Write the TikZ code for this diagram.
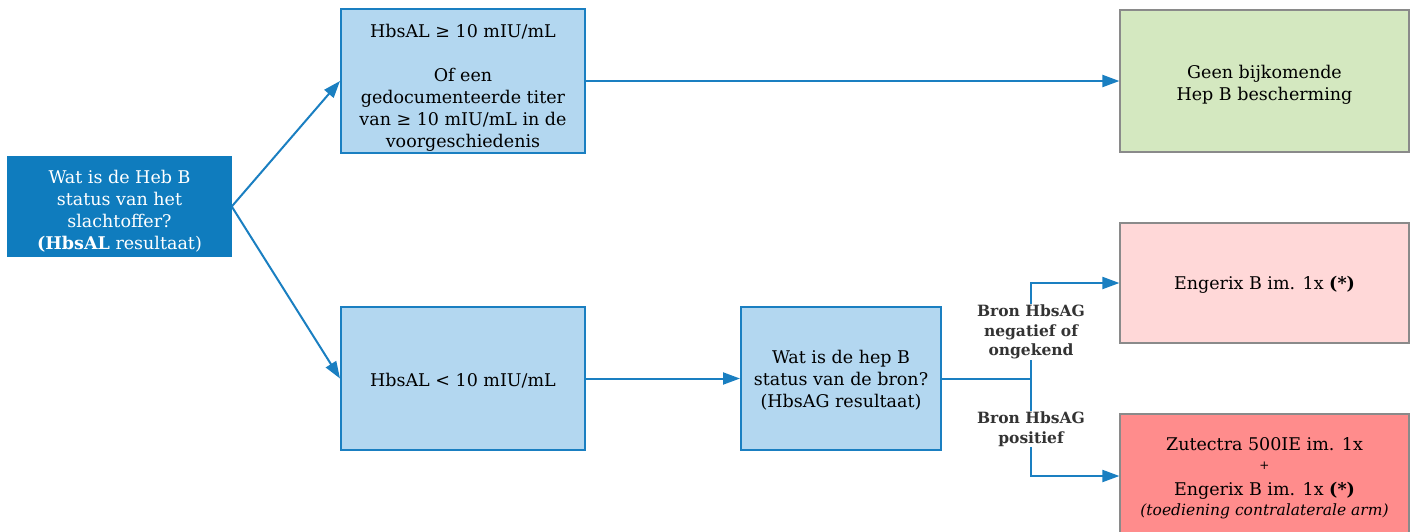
\documentclass[tikz,border=0pt]{standalone}
\usepackage{fontspec}
\setmainfont{DejaVu Serif}
\usetikzlibrary{arrows.meta}
\definecolor{dblue}{HTML}{0F7CBE}
\definecolor{lblue}{HTML}{B3D7F0}
\definecolor{bline}{HTML}{1A7FC1}
\definecolor{lgreen}{HTML}{D4E8C0}
\definecolor{lpink}{HTML}{FFD8D8}
\definecolor{lred}{HTML}{FF8C8C}
\definecolor{gline}{HTML}{8A8A8A}
\definecolor{labtxt}{HTML}{333333}
\newcommand{\tpad}[1]{\rule{0pt}{#1pt}}
\tikzset{
  base/.style={align=center, inner sep=2pt, font=\fontsize{17.5}{22}\selectfont},
  darkbox/.style={base, fill=dblue, draw=dblue, text=white, line width=1.5pt},
  bluebox/.style={base, fill=lblue, draw=bline, line width=2pt, text=black},
  greenbox/.style={base, fill=lgreen, draw=gline, line width=1.2pt},
  pinkbox/.style={base, fill=lpink, draw=gline, line width=1.2pt},
  redbox/.style={base, fill=lred, draw=gline, line width=1.2pt},
  conn/.style={draw=bline, line width=2pt, -{Triangle[length=17pt,width=12pt]}},
  plain/.style={draw=bline, line width=2pt},
  lab/.style={fill=white, align=center, inner sep=1pt, text=labtxt, font=\bfseries\fontsize{15.5}{19.5}\selectfont}
}
\begin{document}
\begin{tikzpicture}[x=1pt,y=-1pt]
\useasboundingbox (0,0) rectangle (1410,531);
\node[darkbox, minimum width=223pt, minimum height=99pt] (L) at (119.5,206.5)
  {\tpad{22}Wat is de Heb B\\status van het\\slachtoffer?\\\textbf{(HbsAL} resultaat)};
\node[bluebox, minimum width=244pt, minimum height=142pt] (T) at (463,81)
  {\tpad{26}HbsAL ≥ 10 mIU/mL\\[22pt]Of een\\gedocumenteerde titer\\van ≥ 10 mIU/mL in de\\voorgeschiedenis};
\node[bluebox, minimum width=244pt, minimum height=143pt] (B) at (463,378.5)
  {\tpad{17}HbsAL < 10 mIU/mL};
\node[bluebox, minimum width=200pt, minimum height=143pt] (M) at (841,378.5)
  {\tpad{16}Wat is de hep B\\status van de bron?\\(HbsAG resultaat)};
\node[greenbox, minimum width=289pt, minimum height=142pt] (G) at (1264.5,81)
  {\tpad{21}Geen bijkomende\\Hep B bescherming};
\node[pinkbox, minimum width=289pt, minimum height=120pt] (P) at (1264.5,283)
  {\tpad{17}Engerix B im. 1x \textbf{(*)}};
\node[redbox, minimum width=289pt, minimum height=124pt] (R) at (1264.5,476)
  {\tpad{18}Zutectra 500IE im. 1x\\[-3pt]{\fontsize{12}{12}\selectfont +}\\[4pt]Engerix B im. 1x \textbf{(*)}\\[-2pt]{\itshape\fontsize{15.5}{18}\selectfont (toediening contralaterale arm)}};
\coordinate (J) at (1031,378.5);
\draw[conn] (L.east) -- (T.west);
\draw[conn] (L.east) -- (B.west);
\draw[conn] (T.east) -- (G.west);
\draw[conn] (B.east) -- (M.west);
\draw[plain] (M.east) -- (J);
\draw[conn] (J) |- (P.west);
\draw[conn] (J) |- (R.west);
\node[lab] (l1) at (1031,332) {Bron HbsAG\\negatief of\\ongekend};
\node[lab] (l2) at (1031,429) {Bron HbsAG\\positief};
\end{tikzpicture}
\end{document}
